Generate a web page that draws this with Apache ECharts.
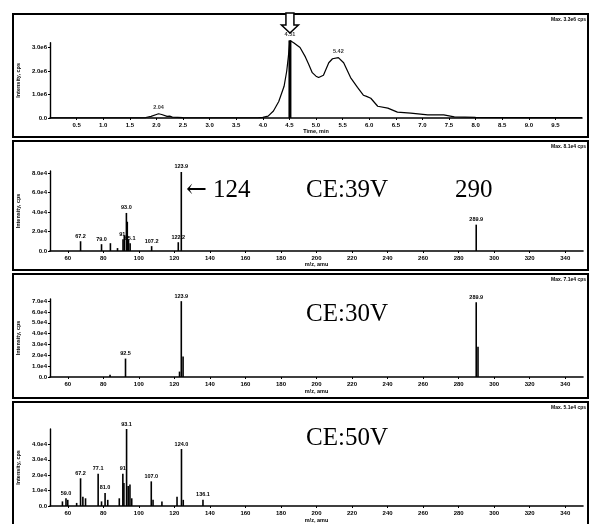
<!DOCTYPE html>
<html><head><meta charset="utf-8">
<script src="https://cdn.jsdelivr.net/npm/echarts@6/dist/echarts.min.js"></script>
<style>html,body{margin:0;padding:0;background:#fff}#c{width:592px;height:524px}</style>
</head><body><div id="c"></div>
<script>
// ---------- Data ----------
// Chromatogram (time in min, intensity in cps)
const chromTimes = [0.0,0.5,1.0,1.5,1.8,1.9,2.0,2.04,2.1,2.2,2.25,2.3,2.5,3.0,3.5,3.9,4.0,4.1,4.2,4.3,4.4,4.45,4.48,4.51,4.58,4.7,4.8,4.86,4.93,5.0,5.05,5.14,5.24,5.31,5.42,5.52,5.65,5.78,5.89,5.95,6.03,6.16,6.35,6.53,6.78,7.1,7.4,7.6,8.0,9.0,10.0];
const chromIntensity = [0.01e6,0.01e6,0.01e6,0.01e6,0.02e6,0.07e6,0.15e6,0.18e6,0.15e6,0.07e6,0.08e6,0.04e6,0.02e6,0.01e6,0.01e6,0.01e6,0.03e6,0.08e6,0.3e6,0.7e6,1.35e6,2.0e6,2.6e6,3.3e6,3.2e6,3.0e6,2.6e6,2.3e6,1.93e6,1.78e6,1.72e6,1.82e6,2.35e6,2.52e6,2.57e6,2.35e6,1.72e6,1.3e6,0.97e6,0.92e6,0.84e6,0.5e6,0.42e6,0.25e6,0.21e6,0.13e6,0.13e6,0.05e6,0.03e6,0.02e6,0.02e6];
const chromPeakTimes = [2.04, 4.51, 5.42];
const chromMarkedPeak = 4.51;
const chromXTicks = [0.5,1.0,1.5,2.0,2.5,3.0,3.5,4.0,4.5,5.0,5.5,6.0,6.5,7.0,7.5,8.0,8.5,9.0,9.5];
const chromYTicks = [0, 1e6, 2e6, 3e6];

// Product ion spectra (m/z, intensity in cps, peak label)
const mzTicks = [60,80,100,120,140,160,180,200,220,240,260,280,300,320,340];

const ce39Mz     = [67.2, 79.0, 84.0, 88.0, 91.1, 91.8, 93.0, 93.5, 94.2, 95.1, 107.2, 122.2, 123.9, 289.9];
const ce39Int    = [1.0e4,0.7e4,0.8e4,0.3e4,1.2e4,1.6e4,3.9e4,3.0e4,1.2e4,0.8e4,0.5e4,0.9e4,8.1e4,2.7e4];
const ce39Labels = ['67.2','79.0','','','91.','','93.0','','','95.1','107.2','122.2','123.9','289.9'];
const ce39YTicks = [0, 2e4, 4e4, 6e4, 8e4];

const ce30Mz     = [83.8, 92.5, 122.9, 123.9, 124.9, 289.9, 290.9];
const ce30Int    = [0.2e4,1.7e4,0.5e4,7.0e4,1.9e4,6.9e4,2.8e4];
const ce30Labels = ['','92.5','','123.9','','289.9',''];
const ce30YTicks = [0,1e4,2e4,3e4,4e4,5e4,6e4,7e4];

const ce50Mz     = [57.0, 59.0, 60.0, 65.0, 67.2, 68.5, 70.0, 77.1, 79.0, 81.0, 82.5, 89.0, 91.0, 91.6, 93.1, 94.0, 95.0, 96.0, 107.0, 108.0, 113.0, 121.5, 124.0, 125.0, 136.1];
const ce50Int    = [0.3e4,0.5e4,0.4e4,0.2e4,1.8e4,0.6e4,0.5e4,2.1e4,0.3e4,0.85e4,0.4e4,0.5e4,2.1e4,1.5e4,5.0e4,1.3e4,1.4e4,0.5e4,1.6e4,0.4e4,0.3e4,0.6e4,3.7e4,0.4e4,0.4e4];
const ce50Labels = ['','59.0','','','67.2','','','77.1','','81.0','','','91','','93.1','','','','107.0','','','','124.0','','136.1'];
const ce50YTicks = [0,1e4,2e4,3e4,4e4];

const maxTexts = ['Max. 3.3e6 cps','Max. 8.1e4 cps','Max. 7.1e4 cps','Max. 5.1e4 cps'];
const ceTexts = ['CE:39V','CE:30V','CE:50V'];

// ---------- Chart ----------
const chart = echarts.init(document.getElementById('c'), null, {renderer:'canvas'});
const SMALL = {fontSize:6, fontWeight:'bold', color:'#000', fontFamily:'Liberation Sans, Arial, sans-serif'};

function sci(v){
  if (v === 0) return '0.0';
  const e = Math.floor(Math.log10(v) + 1e-9);
  return (v/Math.pow(10,e)).toFixed(1) + 'e' + e;
}

const gridDefs = [
  {left:50, width:532, top:42.8, height:75.2},
  {left:50, width:533, top:171, height:80},
  {left:50, width:533, top:299, height:78},
  {left:50, width:533, top:429, height:79}
];

function xAxisDef(i, min, max, ticks, name, gap){
  return {
    type:'value', gridIndex:i, min:min, max:max,
    name:name, nameLocation:'middle', nameGap:gap, nameTextStyle:Object.assign({}, SMALL, {fontSize:5.5}),
    axisLine:{show:true, onZero:false, lineStyle:{color:'#000', width:1.6}},
    axisTick:{show:true, length:2, customValues:ticks, lineStyle:{color:'#000', width:1}},
    axisLabel:Object.assign({}, SMALL, {customValues:ticks, margin:4, formatter:(v)=> (max<=20 ? v.toFixed(1) : String(v))}),
    splitLine:{show:false}
  };
}
function yAxisDef(i, max, ticks){
  return {
    type:'value', gridIndex:i, min:0, max:max,
    name:'Intensity, cps', nameLocation:'middle', nameGap:25, nameRotate:90,
    nameTextStyle:Object.assign({}, SMALL, {fontSize:5.5}),
    axisLine:{show:true, lineStyle:{color:'#000', width:1.4}},
    axisTick:{show:true, length:2, customValues:ticks, lineStyle:{color:'#000', width:1}},
    axisLabel:Object.assign({}, SMALL, {customValues:ticks, margin:3, formatter:sci}),
    splitLine:{show:false}
  };
}

function spectrumSeries(i, mz, inten, labels){
  return {
    type:'bar', xAxisIndex:i, yAxisIndex:i, barWidth:1.6, clip:false,
    itemStyle:{color:'#000'}, silent:true, animation:false,
    data: mz.map((m,k)=>{
      const d = {value:[m, inten[k]]};
      if (labels[k]) d.label = Object.assign({show:true, position:'top', distance:2, formatter:labels[k]}, SMALL, {fontSize:5.5});
      return d;
    })
  };
}

const chromData = chromTimes.map((t,k)=>[t, chromIntensity[k]]);
const peakPoints = chromPeakTimes.map(t=>{ const k = chromTimes.indexOf(t); return [t, chromIntensity[k]]; });
const markedIdx = chromTimes.indexOf(chromMarkedPeak);

const option = {
  animation:false,
  backgroundColor:'#fff',
  grid: gridDefs,
  xAxis: [
    xAxisDef(0, 0, 10, chromXTicks, 'Time, min', 8),
    xAxisDef(1, 50, 350, mzTicks, 'm/z, amu', 10),
    xAxisDef(2, 50, 350, mzTicks, 'm/z, amu', 11),
    xAxisDef(3, 50, 350, mzTicks, 'm/z, amu', 11)
  ],
  yAxis: [
    yAxisDef(0, 3.2e6, chromYTicks),
    yAxisDef(1, 8.2e4, ce39YTicks),
    yAxisDef(2, 7.2e4, ce30YTicks),
    yAxisDef(3, 5.0e4, ce50YTicks)
  ],
  series: [
    {type:'line', xAxisIndex:0, yAxisIndex:0, data:chromData, showSymbol:false, symbol:'none', clip:false,
     lineStyle:{color:'#000', width:1.2}, silent:true},
    {type:'bar', xAxisIndex:0, yAxisIndex:0, barWidth:3, clip:false, itemStyle:{color:'#000'}, silent:true,
     data:[[chromMarkedPeak, chromIntensity[markedIdx]]]},
    {type:'scatter', xAxisIndex:0, yAxisIndex:0, symbolSize:0.1, clip:false, silent:true,
     itemStyle:{color:'rgba(0,0,0,0)'},
     label:Object.assign({show:true, position:'top', distance:3, formatter:(p)=>p.value[0].toFixed(2)}, SMALL, {fontSize:5.5}),
     data:peakPoints},
    spectrumSeries(1, ce39Mz, ce39Int, ce39Labels),
    spectrumSeries(2, ce30Mz, ce30Int, ce30Labels),
    spectrumSeries(3, ce50Mz, ce50Int, ce50Labels)
  ]
};
chart.setOption(option);

// ---------- Annotations (frames, texts, arrow) ----------
const panels = [{y:14,h:123},{y:141,h:129},{y:274,h:124},{y:402,h:130}];
const g = [];
panels.forEach((p,i)=>{
  g.push({type:'rect', shape:{x:13, y:p.y, width:575, height:p.h}, style:{fill:null, stroke:'#000', lineWidth:2}, silent:true});
  g.push({type:'text', x:586, y:p.y+3, style:Object.assign({text:maxTexts[i], align:'right', verticalAlign:'top'}, SMALL, {fontSize:5, fill:'#000'}), silent:true});
});
const SERIF = '25px "Liberation Serif", "Times New Roman", serif';
g.push({type:'text', x:186, y:190, style:{text:'\u2190', font:'25px "DejaVu Serif", serif', fill:'#000', verticalAlign:'middle'}});
g.push({type:'text', x:213, y:190, style:{text:'124', font:SERIF, fill:'#000', verticalAlign:'middle'}});
g.push({type:'text', x:306, y:190, style:{text:ceTexts[0], font:SERIF, fill:'#000', verticalAlign:'middle'}});
g.push({type:'text', x:455, y:190, style:{text:'290', font:SERIF, fill:'#000', verticalAlign:'middle'}});
g.push({type:'text', x:306, y:314, style:{text:ceTexts[1], font:SERIF, fill:'#000', verticalAlign:'middle'}});
g.push({type:'text', x:306, y:438, style:{text:ceTexts[2], font:SERIF, fill:'#000', verticalAlign:'middle'}});

// hollow arrow pointing at the marked peak
const px = chart.convertToPixel({gridIndex:0}, [chromMarkedPeak, 0])[0];
g.push({type:'polygon', shape:{points:[[px-4,13],[px+4,13],[px+4,25],[px+8.5,25],[px,33],[px-8.5,25],[px-4,25]]},
        style:{fill:'#fff', stroke:'#000', lineWidth:1.5}, silent:true});

chart.setOption({graphic:g});
</script>
</body></html>
